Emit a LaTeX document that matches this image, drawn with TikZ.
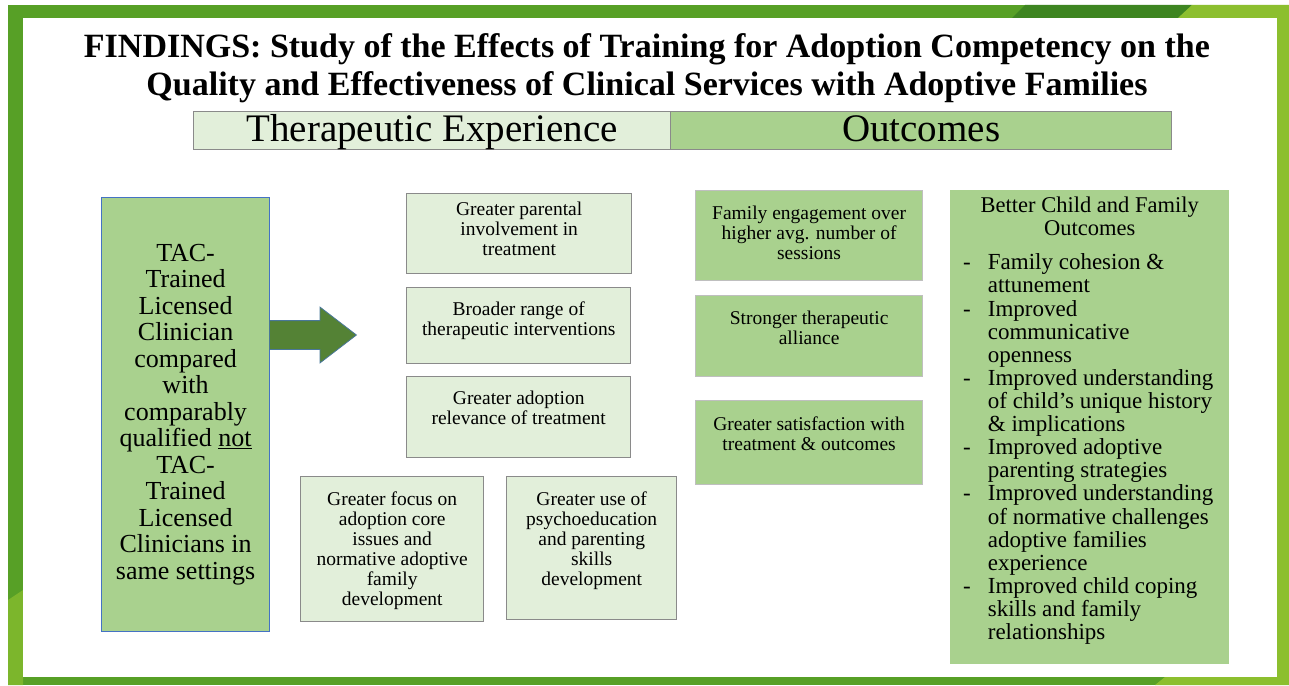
\documentclass[tikz,border=0pt]{standalone}
\usepackage{fontspec}
\setmainfont{Liberation Serif}
\usetikzlibrary{positioning,shapes.arrows}

\definecolor{framegreen}{HTML}{57A026}
\definecolor{framedark}{HTML}{3E8521}
\definecolor{framelight}{HTML}{8CBF2F}
\definecolor{palegreen}{HTML}{E2EFDA}
\definecolor{leafgreen}{HTML}{A9D18E}
\definecolor{arrowgreen}{HTML}{548235}
\definecolor{boxgray}{HTML}{8A8A8A}
\definecolor{softgray}{HTML}{BFBFBF}
\definecolor{edgeblue}{HTML}{4472C4}

\tikzset{
  expbox/.style={draw=boxgray, line width=1.4pt, fill=palegreen, anchor=north west, inner sep=0pt},
  outbox/.style={draw=softgray, line width=1.2pt, fill=leafgreen, anchor=north west, inner sep=0pt},
  boxtext/.style={align=center, inner sep=0pt, font=\fontsize{19.5}{20}\selectfont},
  headcell/.style={draw=boxgray, line width=1.2pt, anchor=north west, inner sep=0pt,
    minimum height=38, text height=25pt, text depth=3pt, font=\fontsize{39}{38}\selectfont}
}

\begin{document}
\begin{tikzpicture}[x=1pt,y=-1pt]
  % slide frame
  \fill[white] (0,0) rectangle (1289,685);
  \fill[framegreen] (8,5) rectangle (1289,685);
  \fill[framedark] (1025,5) -- (1192,5) -- (1178,18) -- (1012,18) -- cycle;
  \fill[framelight] (1192,5) -- (1289,5) -- (1289,685) -- (1155,685)
    -- (1165,677) -- (1277,677) -- (1277,18) -- (1178,18) -- cycle;
  \fill[framelight!70!framegreen] (8,600) -- (23,590) -- (23,685) -- (8,685) -- cycle;
  \fill[white] (23,18) rectangle (1277,677);

  % title
  \node[align=center, font=\bfseries\fontsize{34}{38}\selectfont] (title) at (647,68)
    {FINDINGS: Study of the Effects of Training for Adoption Competency on the\\
     Quality and Effectiveness of Clinical Services with Adoptive Families};

  % column heads
  \node[headcell, fill=palegreen, minimum width=477] (exphead) at (193,111) {Therapeutic Experience};
  \node[headcell, fill=leafgreen, minimum width=501] (outhead) at (670,111) {Outcomes};

  % clinician box and arrow
  \node[draw=edgeblue, line width=1.2pt, fill=leafgreen, anchor=north west,
    minimum width=168, minimum height=434, inner sep=0pt, align=center,
    font=\fontsize{26}{26.5}\selectfont] (tac) at (101,197)
    {TAC-\\Trained\\Licensed\\Clinician\\compared\\with\\comparably\\qualified \underline{not}\\
     TAC-\\Trained\\Licensed\\Clinicians in\\same settings};
  \node[single arrow, draw=edgeblue!70!arrowgreen, line width=0.8pt, fill=arrowgreen,
    inner sep=14pt, single arrow head extend=13.5pt, single arrow tip angle=75,
    minimum height=87, anchor=tail] (go) at (269,335) {};

  % therapeutic experience
  \node[expbox, minimum width=225, minimum height=80] (inv) at (406,193) {};
  \node[boxtext, below=9pt of inv.north] (invtxt) {Greater parental\\involvement in\\treatment};
  \node[expbox, minimum width=224, minimum height=76] (range) at (406,287) {};
  \node[boxtext, below=15pt of range.north] (rangetxt) {Broader range of\\therapeutic interventions};
  \node[expbox, minimum width=224, minimum height=81] (rel) at (406,376) {};
  \node[boxtext, below=15pt of rel.north] (reltxt) {Greater adoption\\relevance of treatment};
  \node[expbox, minimum width=183, minimum height=145] (core) at (300,476) {};
  \node[boxtext, below=16pt of core.north] (coretxt)
    {Greater focus on\\adoption core\\issues and\\normative adoptive\\family\\development};
  \node[expbox, minimum width=170, minimum height=143] (psy) at (506,476) {};
  \node[boxtext, below=16pt of psy.north] (psytxt)
    {Greater use of\\psychoeducation\\and parenting\\skills\\development};

  % outcomes
  \node[outbox, minimum width=227, minimum height=90] (eng) at (695,190) {};
  \node[boxtext, below=16pt of eng.north] (engtxt) {Family engagement over\\higher avg. number of\\sessions};
  \node[outbox, minimum width=227, minimum height=81] (all) at (695,295) {};
  \node[boxtext, below=16pt of all.north] (alltxt) {Stronger therapeutic\\alliance};
  \node[outbox, minimum width=227, minimum height=84] (sat) at (695,400) {};
  \node[boxtext, below=17pt of sat.north] (sattxt) {Greater satisfaction with\\treatment \& outcomes};

  % child and family outcomes
  \node[fill=leafgreen, anchor=north west, inner sep=0pt,
    minimum width=279, minimum height=474] (better) at (950,190) {};
  \node[align=center, inner sep=0pt, font=\fontsize{22.5}{23}\selectfont,
    below=7pt of better.north] (bettertxt) {Better Child and Family\\Outcomes};
  \node[anchor=north west, inner sep=0pt, font=\fontsize{23}{23.1}\selectfont] (list) at (963,253.5)
    {\begin{tabular}{@{}l@{\hspace{17pt}}l@{}}
      - & Family cohesion \&\\
        & attunement\\
      - & Improved\\
        & communicative\\
        & openness\\
      - & Improved understanding\\
        & of child’s unique history\\
        & \& implications\\
      - & Improved adoptive\\
        & parenting strategies\\
      - & Improved understanding\\
        & of normative challenges\\
        & adoptive families\\
        & experience\\
      - & Improved child coping\\
        & skills and family\\
        & relationships
    \end{tabular}};
\end{tikzpicture}
\end{document}
